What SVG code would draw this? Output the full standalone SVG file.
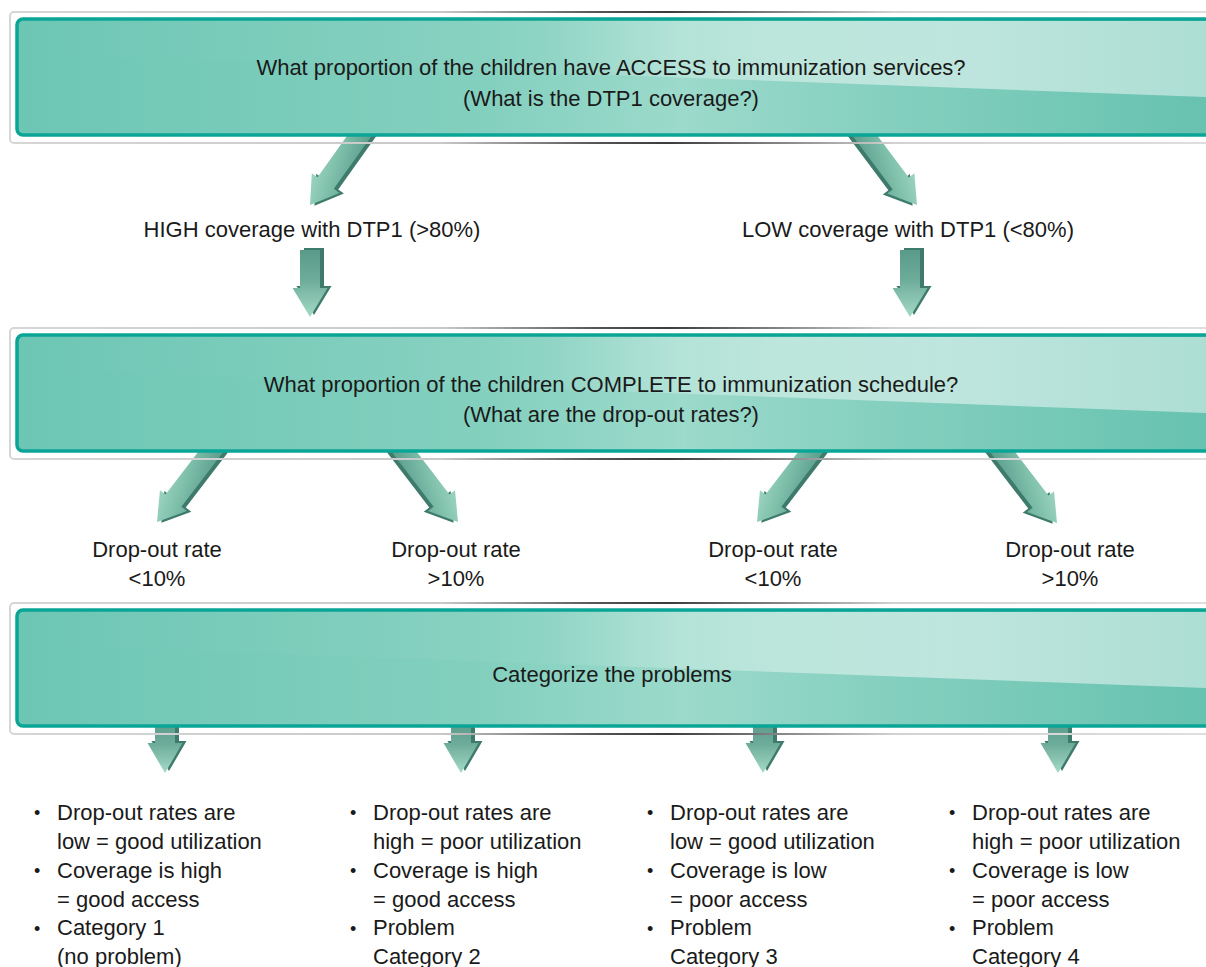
<svg xmlns="http://www.w3.org/2000/svg" xmlns:xlink="http://www.w3.org/1999/xlink" width="1206" height="967" viewBox="0 0 1206 967">
  <style>
    text { font-family: "Liberation Sans", Arial, sans-serif; font-size: 22px; fill: #1a1a1a; }
    .c { text-anchor: middle; }
    .bul { font-size: 18px; }
    .frame { fill: none; stroke: url(#frameStroke); stroke-width: 2; }
    .panel { fill: url(#panelFill); stroke: #0aa596; stroke-width: 3.5; }
    .gloss { fill: url(#glossFill); }
    .side { fill: #3f7b6c; }
    .faceL { fill: url(#arrowGradL); }
    .faceR { fill: url(#arrowGradR); }
    .faceD { fill: url(#arrowGradD); }
  </style>
  <defs>
    <!-- banner colours -->
    <linearGradient id="panelFill" gradientUnits="userSpaceOnUse" x1="17" y1="0" x2="1206" y2="0">
      <stop offset="0" stop-color="#6dc6b4"/>
      <stop offset="0.4" stop-color="#84d0bf"/>
      <stop offset="0.56" stop-color="#9cdacb"/>
      <stop offset="0.72" stop-color="#86d0c0"/>
      <stop offset="1" stop-color="#67c2af"/>
    </linearGradient>
    <linearGradient id="glossFill" gradientUnits="userSpaceOnUse" x1="17" y1="0" x2="1206" y2="0">
      <stop offset="0" stop-color="#ffffff" stop-opacity="0"/>
      <stop offset="0.45" stop-color="#ffffff" stop-opacity="0.04"/>
      <stop offset="0.64" stop-color="#ffffff" stop-opacity="0.4"/>
      <stop offset="0.78" stop-color="#ffffff" stop-opacity="0.5"/>
      <stop offset="1" stop-color="#ffffff" stop-opacity="0.46"/>
    </linearGradient>
    <linearGradient id="frameStroke" gradientUnits="userSpaceOnUse" x1="10" y1="0" x2="1206" y2="0">
      <stop offset="0" stop-color="#d6d6d6"/>
      <stop offset="0.36" stop-color="#c9c9c9"/>
      <stop offset="0.49" stop-color="#555555"/>
      <stop offset="0.55" stop-color="#3c3c3c"/>
      <stop offset="0.63" stop-color="#7a7a7a"/>
      <stop offset="0.74" stop-color="#d2d2d2"/>
      <stop offset="1" stop-color="#dedede"/>
    </linearGradient>
    <!-- arrow shading -->
    <linearGradient id="arrowGradL" x1="1" y1="0" x2="0" y2="1">
      <stop offset="0" stop-color="#4f9383"/>
      <stop offset="0.55" stop-color="#7fc0ab"/>
      <stop offset="1" stop-color="#a6dcc8"/>
    </linearGradient>
    <linearGradient id="arrowGradR" x1="0" y1="0" x2="1" y2="1">
      <stop offset="0" stop-color="#4f9383"/>
      <stop offset="0.55" stop-color="#7fc0ab"/>
      <stop offset="1" stop-color="#a6dcc8"/>
    </linearGradient>
    <linearGradient id="arrowGradD" x1="0" y1="0" x2="0" y2="1">
      <stop offset="0" stop-color="#5a9a89"/>
      <stop offset="0.45" stop-color="#6eac9a"/>
      <stop offset="1" stop-color="#a4dbc7"/>
    </linearGradient>
    <!-- arrow outlines, tip at origin, pointing down -->
    <polygon id="arrowDiag" points="-10,-100 10,-100 10,-27 17,-27 0,0 -17,-27 -10,-27"/>
    <polygon id="arrowTall" points="-10,-67 10,-67 10,-29 17.5,-29 0,0 -17.5,-29 -10,-29"/>
    <polygon id="arrowShort" points="-10,-52 10,-52 10,-30 17.5,-30 0,0 -17.5,-30 -10,-30"/>
  </defs>

  <!-- connectors -->
  <g id="connectors">
    <!-- from the access question -->
    <g transform="translate(310,205) rotate(35.5)">
      <use xlink:href="#arrowDiag" class="side" transform="translate(4,-2)"/>
      <use xlink:href="#arrowDiag" class="faceL"/>
    </g>
    <g transform="translate(917,205) rotate(-36.9)">
      <use xlink:href="#arrowDiag" class="side" transform="translate(-4,-2)"/>
      <use xlink:href="#arrowDiag" class="faceR"/>
    </g>
    <!-- into the completion question -->
    <g transform="translate(310,317)">
      <use xlink:href="#arrowTall" class="side" transform="translate(4,-2)"/>
      <use xlink:href="#arrowTall" class="faceD"/>
    </g>
    <g transform="translate(910,317)">
      <use xlink:href="#arrowTall" class="side" transform="translate(4,-2)"/>
      <use xlink:href="#arrowTall" class="faceD"/>
    </g>
    <!-- from the completion question -->
    <g transform="translate(157,522) rotate(37.5)">
      <use xlink:href="#arrowDiag" class="side" transform="translate(4,-2)"/>
      <use xlink:href="#arrowDiag" class="faceL"/>
    </g>
    <g transform="translate(458,522) rotate(-37.5)">
      <use xlink:href="#arrowDiag" class="side" transform="translate(-4,-2)"/>
      <use xlink:href="#arrowDiag" class="faceR"/>
    </g>
    <g transform="translate(757,522) rotate(37.5)">
      <use xlink:href="#arrowDiag" class="side" transform="translate(4,-2)"/>
      <use xlink:href="#arrowDiag" class="faceL"/>
    </g>
    <g transform="translate(1057,523) rotate(-37.5)">
      <use xlink:href="#arrowDiag" class="side" transform="translate(-4,-2)"/>
      <use xlink:href="#arrowDiag" class="faceR"/>
    </g>
    <!-- from the categorisation step -->
    <g transform="translate(165,773)">
      <use xlink:href="#arrowShort" class="side" transform="translate(4,-2)"/>
      <use xlink:href="#arrowShort" class="faceD"/>
    </g>
    <g transform="translate(461,773)">
      <use xlink:href="#arrowShort" class="side" transform="translate(4,-2)"/>
      <use xlink:href="#arrowShort" class="faceD"/>
    </g>
    <g transform="translate(763,773)">
      <use xlink:href="#arrowShort" class="side" transform="translate(4,-2)"/>
      <use xlink:href="#arrowShort" class="faceD"/>
    </g>
    <g transform="translate(1058,773)">
      <use xlink:href="#arrowShort" class="side" transform="translate(4,-2)"/>
      <use xlink:href="#arrowShort" class="faceD"/>
    </g>
  </g>

  <!-- question 1 -->
  <g id="q-access">
    <rect class="frame" x="10" y="12" width="1215" height="131" rx="4"/>
    <rect class="panel" x="17" y="19" width="1210" height="116" rx="6"/>
    <polygon class="gloss" points="19,21 1206,21 1206,97 19,53"/>
    <text class="c" x="611" y="75">What proportion of the children have ACCESS to immunization services?</text>
    <text class="c" x="611" y="106">(What is the DTP1 coverage?)</text>
  </g>

  <g id="high-dtp1">
    <text class="c" x="312" y="237">HIGH coverage with DTP1 (&gt;80%)</text>
  </g>
  <g id="low-dtp1">
    <text class="c" x="908" y="237">LOW coverage with DTP1 (&lt;80%)</text>
  </g>

  <!-- question 2 -->
  <g id="q-complete" transform="translate(0,316)">
    <rect class="frame" x="10" y="12" width="1215" height="131" rx="4"/>
    <rect class="panel" x="17" y="19" width="1210" height="116" rx="6"/>
    <polygon class="gloss" points="19,21 1206,21 1206,97 19,53"/>
    <text class="c" x="611" y="76">What proportion of the children COMPLETE to immunization schedule?</text>
    <text class="c" x="611" y="106">(What are the drop-out rates?)</text>
  </g>

  <g id="dropout-1">
    <text class="c" x="157" y="557">Drop-out rate</text>
    <text class="c" x="157" y="586">&lt;10%</text>
  </g>
  <g id="dropout-2">
    <text class="c" x="456" y="557">Drop-out rate</text>
    <text class="c" x="456" y="586">&gt;10%</text>
  </g>
  <g id="dropout-3">
    <text class="c" x="773" y="557">Drop-out rate</text>
    <text class="c" x="773" y="586">&lt;10%</text>
  </g>
  <g id="dropout-4">
    <text class="c" x="1070" y="557">Drop-out rate</text>
    <text class="c" x="1070" y="586">&gt;10%</text>
  </g>

  <!-- categorisation step -->
  <g id="categorize" transform="translate(0,591)">
    <rect class="frame" x="10" y="12" width="1215" height="131" rx="4"/>
    <rect class="panel" x="17" y="19" width="1210" height="116" rx="6"/>
    <polygon class="gloss" points="19,21 1206,21 1206,97 19,53"/>
    <text class="c" x="612" y="91">Categorize the problems</text>
  </g>

  <!-- outcome lists -->
  <g id="category-1">
    <text class="bul" x="34" y="819">•</text>
    <text class="bul" x="34" y="877">•</text>
    <text class="bul" x="34" y="935">•</text>
    <text x="57" y="820">Drop-out rates are</text>
    <text x="57" y="849">low = good utilization</text>
    <text x="57" y="878">Coverage is high</text>
    <text x="57" y="907">= good access</text>
    <text x="57" y="935">Category 1</text>
    <text x="57" y="964">(no problem)</text>
  </g>
  <g id="category-2">
    <text class="bul" x="350" y="819">•</text>
    <text class="bul" x="350" y="877">•</text>
    <text class="bul" x="350" y="935">•</text>
    <text x="373" y="820">Drop-out rates are</text>
    <text x="373" y="849">high = poor utilization</text>
    <text x="373" y="878">Coverage is high</text>
    <text x="373" y="907">= good access</text>
    <text x="373" y="935">Problem</text>
    <text x="373" y="964">Category 2</text>
  </g>
  <g id="category-3">
    <text class="bul" x="647" y="819">•</text>
    <text class="bul" x="647" y="877">•</text>
    <text class="bul" x="647" y="935">•</text>
    <text x="670" y="820">Drop-out rates are</text>
    <text x="670" y="849">low = good utilization</text>
    <text x="670" y="878">Coverage is low</text>
    <text x="670" y="907">= poor access</text>
    <text x="670" y="935">Problem</text>
    <text x="670" y="964">Category 3</text>
  </g>
  <g id="category-4">
    <text class="bul" x="949" y="819">•</text>
    <text class="bul" x="949" y="877">•</text>
    <text class="bul" x="949" y="935">•</text>
    <text x="972" y="820">Drop-out rates are</text>
    <text x="972" y="849">high = poor utilization</text>
    <text x="972" y="878">Coverage is low</text>
    <text x="972" y="907">= poor access</text>
    <text x="972" y="935">Problem</text>
    <text x="972" y="964">Category 4</text>
  </g>
</svg>
